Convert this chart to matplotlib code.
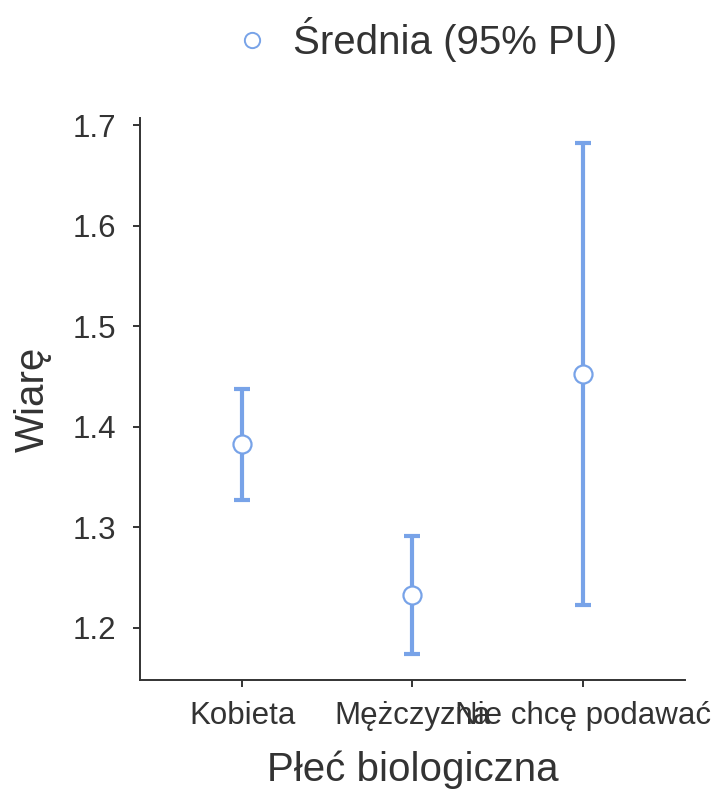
import matplotlib
matplotlib.use("Agg")
import matplotlib.pyplot as plt
from matplotlib.lines import Line2D

categories = ["Kobieta", "Mężczyzna", "Nie chcę podawać"]
means = [1.383, 1.233, 1.452]
ci_lower = [1.327, 1.174, 1.223]
ci_upper = [1.438, 1.291, 1.682]
yticks = [1.2, 1.3, 1.4, 1.5, 1.6, 1.7]

plt.rcParams['font.family'] = ['Liberation Sans', 'DejaVu Sans']
txt = '#333333'
blue = '#78A3E8'

fig = plt.figure(figsize=(7.21, 7.99), dpi=100)
ax = fig.add_axes([0.194, 0.149, 0.756, 0.703])

x = list(range(len(categories)))
yerr = [[m - l for m, l in zip(means, ci_lower)], [u - m for m, u in zip(means, ci_upper)]]
ax.errorbar(x, means, yerr=yerr, fmt='none', ecolor=blue, elinewidth=3, capsize=6, capthick=3, zorder=2)
ax.plot(x, means, 'o', ms=13, mfc='white', mec=blue, mew=1.6, zorder=3)

ax.set_xlim(-0.6, 2.6)
ax.set_ylim(1.148, 1.707)
ax.set_xticks(x)
ax.set_xticklabels(categories, fontsize=22.5, color=txt)
ax.set_yticks(yticks)
ax.set_yticklabels([f"{v:.1f}" for v in yticks], fontsize=22.5, color=txt)
for s in ['top', 'right']:
    ax.spines[s].set_visible(False)
for s in ['left', 'bottom']:
    ax.spines[s].set_color(txt)
    ax.spines[s].set_linewidth(1.4)
ax.tick_params(axis='both', colors=txt, width=1.4, length=5)
ax.tick_params(axis='x', pad=10)
ax.tick_params(axis='y', pad=12)
ax.set_xlabel("Płeć biologiczna", fontsize=29, color=txt, labelpad=14)
ax.set_ylabel("Wiarę", fontsize=29, color=txt, labelpad=15)

handle = Line2D([], [], marker='o', ls='none', ms=11, mfc='white', mec=blue, mew=1.4)
fig.legend([handle], ["Średnia (95% PU)"], loc='center', bbox_to_anchor=(0.589, 0.951),
           frameon=False, fontsize=29, labelcolor=txt, handlelength=1.0, handletextpad=0.5)

fig.savefig("out.png", dpi=100)
